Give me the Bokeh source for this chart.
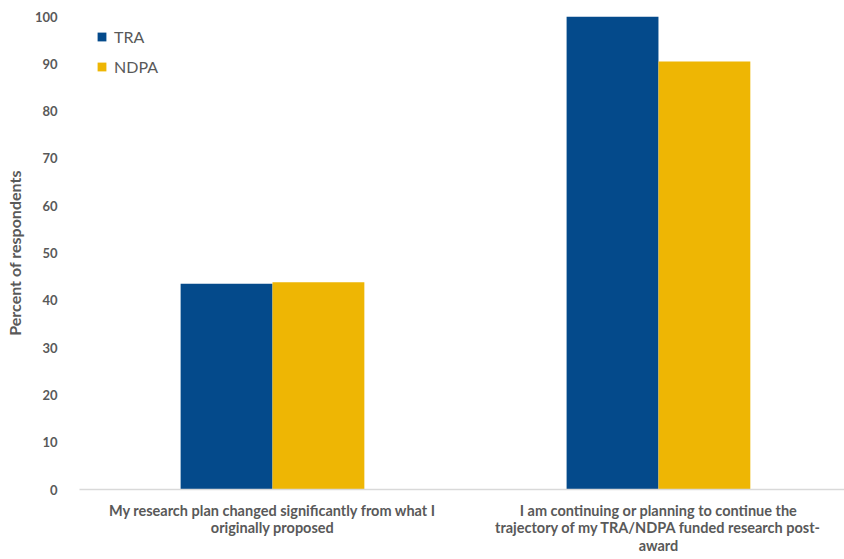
from bokeh.plotting import figure
from bokeh.models import ColumnDataSource, Range1d, FixedTicker, Legend, LegendItem
from bokeh.transform import dodge
from bokeh.embed import file_html
from bokeh.resources import INLINE

categories = [
    "My research plan changed significantly from what I\noriginally proposed",
    "I am continuing or planning to continue the\ntrajectory of my TRA/NDPA funded research post-\naward",
]
series = ["TRA", "NDPA"]
tra = [43.5, 100.0]
ndpa = [43.8, 90.5]
y_ticks = [0, 10, 20, 30, 40, 50, 60, 70, 80, 90, 100]

colors = {"TRA": "#044A8B", "NDPA": "#EEB604"}
grey = "#595959"
FONT = "Lato"

xpos = [i + 0.5 for i in range(len(categories))]
src = ColumnDataSource(dict(x=xpos, TRA=tra, NDPA=ndpa))

p = figure(width=844, height=559, output_backend="svg", toolbar_location=None,
           x_range=Range1d(0, 1.982), y_range=Range1d(0, 100),
           min_border_left=79, min_border_right=0, min_border_top=16, min_border_bottom=70)
p.outline_line_color = None
p.xgrid.visible = False
p.ygrid.visible = False

bw = 0.238
r1 = p.vbar(x=dodge("x", -bw / 2, range=p.x_range), top="TRA", width=bw, source=src,
            fill_color=colors["TRA"], line_color=None)
r2 = p.vbar(x=dodge("x", bw / 2, range=p.x_range), top="NDPA", width=bw, source=src,
            fill_color=colors["NDPA"], line_color=None)

p.xaxis.ticker = FixedTicker(ticks=xpos)
p.xaxis.major_label_overrides = {xv: c for xv, c in zip(xpos, categories)}
p.xaxis.axis_line_color = "#d9d9d9"
p.xaxis.axis_line_width = 1.5
p.xaxis.major_tick_line_color = None
p.xaxis.major_tick_out = 0
p.xaxis.minor_tick_line_color = None
p.xaxis.minor_tick_out = 0
p.xaxis.major_label_text_font = FONT
p.xaxis.major_label_text_font_style = "bold"
p.xaxis.major_label_text_font_size = "14.5px"
p.xaxis.major_label_text_line_height = 1.05
p.xaxis.major_label_text_color = grey
p.xaxis.major_label_standoff = 12

p.yaxis.ticker = FixedTicker(ticks=y_ticks)
p.yaxis.axis_line_color = None
p.yaxis.major_tick_line_color = None
p.yaxis.major_tick_out = 0
p.yaxis.minor_tick_line_color = None
p.yaxis.minor_tick_out = 0
p.yaxis.major_label_text_font = FONT
p.yaxis.major_label_text_font_style = "bold"
p.yaxis.major_label_text_font_size = "13px"
p.yaxis.major_label_text_color = grey
p.yaxis.major_label_standoff = 22
p.yaxis.axis_label = "Percent of respondents"
p.yaxis.axis_label_text_font = FONT
p.yaxis.axis_label_text_font_style = "bold"
p.yaxis.axis_label_text_font_size = "16px"
p.yaxis.axis_label_text_color = grey
p.yaxis.axis_label_standoff = 8

legend = Legend(items=[LegendItem(label="TRA", renderers=[r1]),
                       LegendItem(label="NDPA", renderers=[r2])],
                location=(17, 413))
legend.border_line_color = None
legend.background_fill_alpha = 0
legend.label_text_font = FONT
legend.label_text_font_size = "16px"
legend.label_text_color = grey
legend.glyph_width = 11
legend.glyph_height = 11
legend.spacing = 11
legend.label_standoff = 7
p.add_layout(legend)

open("out.html", "w").write(file_html(p, INLINE))
